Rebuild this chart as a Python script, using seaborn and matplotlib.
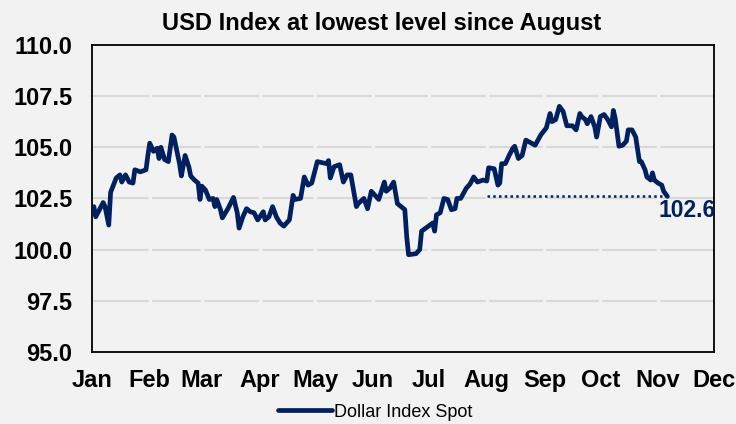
import pandas as pd
import numpy as np
import seaborn as sns
import matplotlib.pyplot as plt

# Dollar Index Spot (2023 calendar assumed)
dates = [
    "01-02", "01-03", "01-07", "01-08", "01-10", "01-11", "01-14", "01-16", "01-17", "01-19",
    "01-21", "01-23", "01-24", "01-27", "01-30", "01-31", "02-01", "02-03", "02-05", "02-06",
    "02-07", "02-09", "02-11", "02-13", "02-14", "02-17", "02-18", "02-20", "02-22", "02-23",
    "02-25", "02-27", "02-28", "03-01", "03-03", "03-05", "03-07", "03-08", "03-09", "03-11",
    "03-12", "03-15", "03-18", "03-20", "03-21", "03-23", "03-25", "03-27", "03-29", "03-31",
    "04-03", "04-04", "04-06", "04-08", "04-10", "04-12", "04-14", "04-17", "04-19", "04-20",
    "04-23", "04-25", "04-27", "04-29", "05-02", "05-07", "05-08", "05-09", "05-11", "05-14",
    "05-16", "05-18", "05-20", "05-23", "05-24", "05-27", "05-29", "05-31", "06-02", "06-04",
    "06-07", "06-08", "06-10", "06-12", "06-14", "06-18", "06-19", "06-20", "06-24", "06-26",
    "06-27", "06-30", "07-03", "07-04", "07-05", "07-07", "07-09", "07-11", "07-13", "07-15",
    "07-16", "07-18", "07-21", "07-23", "07-25", "07-27", "07-30", "08-01", "08-02", "08-05",
    "08-07", "08-08", "08-09", "08-11", "08-13", "08-15", "08-16", "08-18", "08-20", "08-22",
    "08-25", "08-27", "08-30", "09-02", "09-04", "09-05", "09-07", "09-09", "09-11", "09-13",
    "09-16", "09-18", "09-20", "09-21", "09-23", "09-24", "09-26", "09-28", "09-29", "10-01",
    "10-03", "10-05", "10-07", "10-08", "10-09", "10-11", "10-13", "10-15", "10-16", "10-18",
    "10-20", "10-22", "10-23", "10-25", "10-26", "10-28", "10-29", "10-30", "11-01", "11-03",
    "11-04", "11-06",
]
values = [
    102.1, 101.6, 102.3, 102.1, 101.2, 102.8, 103.5, 103.65, 103.3, 103.65,
    103.3, 103.25, 103.9, 103.8, 103.9, 104.6, 105.2, 104.8, 104.95, 104.45,
    105.0, 104.4, 104.3, 105.6, 105.5, 104.2, 103.6, 104.6, 104.05, 103.6,
    103.4, 103.25, 102.45, 103.1, 102.9, 102.45, 102.5, 102.1, 102.45, 101.95,
    101.55, 102.0, 102.55, 101.8, 101.05, 101.6, 102.0, 101.85, 101.8, 101.45,
    101.85, 101.45, 101.6, 102.1, 101.6, 101.3, 101.15, 101.45, 102.65, 102.45,
    102.5, 103.55, 103.15, 103.25, 104.3, 104.2, 104.35, 103.5, 104.05, 104.15,
    103.3, 103.65, 103.65, 102.1, 102.25, 102.5, 102.0, 102.85, 102.65, 102.45,
    103.3, 102.85, 103.0, 103.3, 102.25, 101.95, 100.65, 99.75, 99.8, 100.0,
    100.9, 101.1, 101.3, 100.9, 101.7, 101.8, 102.5, 102.45, 101.95, 102.0,
    102.5, 102.5, 103.0, 103.2, 103.55, 103.3, 103.4, 103.35, 104.0, 103.95,
    103.15, 103.25, 104.2, 104.2, 104.6, 104.95, 105.05, 104.45, 104.6, 105.35,
    105.2, 105.1, 105.6, 105.95, 106.65, 106.25, 106.35, 107.0, 106.75, 106.05,
    106.05, 105.85, 106.65, 106.5, 106.35, 106.15, 106.5, 106.0, 105.5, 106.5,
    106.6, 106.35, 106.0, 106.8, 106.4, 105.05, 105.1, 105.3, 105.85, 105.85,
    105.5, 104.3, 104.3, 103.9, 103.55, 103.4, 103.75, 103.4, 103.25, 103.15,
    102.85, 102.6,
]
month_labels = ["Jan", "Feb", "Mar", "Apr", "May", "Jun", "Jul", "Aug", "Sep", "Oct", "Nov", "Dec"]
ref_start = "2023-08-01"
last_value = 102.6

NAVY = "#002060"
BG = "#f2f2f2"

df = pd.DataFrame({"date": pd.to_datetime(["2023-" + d for d in dates]), "value": values})

sns.set_style("white")
plt.rcParams["font.family"] = ["Liberation Sans", "DejaVu Sans"]
plt.rcParams["text.color"] = "black"
plt.rcParams["xtick.color"] = "black"
plt.rcParams["ytick.color"] = "black"

fig = plt.figure(figsize=(7.36, 4.24), dpi=100, facecolor=BG)
ax = fig.add_axes([0.125, 0.170, 0.845, 0.724])
ax.set_facecolor(BG)

month_starts = pd.date_range("2023-01-01", "2023-12-01", freq="MS")

# horizontal gridlines, broken at each month tick like the original
for yv in np.arange(97.5, 110, 2.5):
    ax.axhline(yv, color="#d9d9d9", lw=1.6, zorder=0)
for m in month_starts[1:-1]:
    ax.axvline(m, color=BG, lw=2.5, zorder=0.5)

sns.lineplot(data=df, x="date", y="value", ax=ax, color=NAVY, lw=3.4,
             zorder=3, legend=False)

end_date = df["date"].iloc[-1]
ax.plot([pd.Timestamp(ref_start), end_date], [last_value, last_value],
        color=NAVY, lw=1.8, linestyle=(0, (1, 1.3)), zorder=2)
ax.annotate(f"{last_value:.1f}", xy=(end_date, last_value), xytext=(14, -10),
            textcoords="offset points", ha="center", va="center",
            fontsize=16.5, fontweight="bold", color=NAVY)

ax.set_xlim(month_starts[0], month_starts[-1])
ax.set_ylim(95, 110)
ax.set_xticks(month_starts)
ax.set_xticklabels(month_labels)
ax.set_yticks(np.arange(95, 110.1, 2.5))
ax.yaxis.set_major_formatter(plt.FormatStrFormatter("%.1f"))
ax.tick_params(axis="x", direction="in", length=5, width=1, pad=12, labelsize=17)
ax.tick_params(axis="y", length=0, pad=14, labelsize=17)
for lab in ax.get_xticklabels() + ax.get_yticklabels():
    lab.set_fontweight("bold")
for sp in ax.spines.values():
    sp.set_visible(True)
    sp.set_color("black")
    sp.set_linewidth(1.3)
ax.set_xlabel("")
ax.set_ylabel("")

fig.text(0.519, 0.945, "USD Index at lowest level since August", ha="center", va="center",
         fontsize=17, fontweight="bold")

handle = plt.Line2D([], [], color=NAVY, lw=3.4)
fig.legend([handle], ["Dollar Index Spot"], loc="center", bbox_to_anchor=(0.51, 0.028),
           frameon=False, fontsize=13, handlelength=3.0, handletextpad=0.1)

fig.savefig("out.png", dpi=100, facecolor=BG)
